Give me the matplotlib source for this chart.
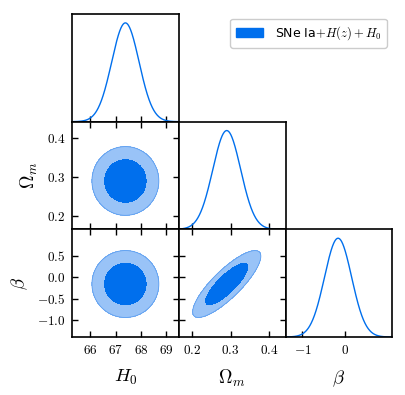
import numpy as np
import matplotlib
matplotlib.use('Agg')
import matplotlib.pyplot as plt
from matplotlib.patches import Patch
from matplotlib.ticker import FixedLocator, FixedFormatter

plt.rcParams['mathtext.fontset'] = 'cm'
plt.rcParams['font.family'] = ['DejaVu Sans']

# ---- data ----
param_labels = [r'$H_0$', r'$\Omega_m$', r'$\beta$']
means = [67.38, 0.290, -0.16]
sigmas = [0.54, 0.036, 0.32]
corr = np.array([[1.0, 0.0, 0.0],
                 [0.0, 1.0, 0.83],
                 [0.0, 0.83, 1.0]])
limits = [(65.27, 69.49), (0.166, 0.442), (-1.40, 1.12)]
xtick_vals = [[66, 67, 68, 69], [0.2, 0.3, 0.4], [-1, 0]]
xtick_labels = [['66', '67', '68', '69'], ['0.2', '0.3', '0.4'], ['-1', '0']]
ytick_vals = {1: [0.2, 0.3, 0.4], 2: [-1.0, -0.5, 0.0, 0.5]}
ytick_labels = {1: ['0.2', '0.3', '0.4'], 2: ['-1.0', '-0.5', '0.0', '0.5']}
legend_label = r'SNe Ia$+H(z)+H_0$'

col_inner = '#006FED'
col_outer = '#99C3F7'
col_edge = '#5C9EF0'

W, H = 406, 395
fig = plt.figure(figsize=(W / 100, H / 100), dpi=100)
left_px, right_px, top_px, bot_px = 72, 392.3, 14, 337
pw = (right_px - left_px) / 3
ph = (bot_px - top_px) / 3


def mk_ax(row, col):
    x0 = (left_px + col * pw) / W
    y0 = 1 - (top_px + (row + 1) * ph) / H
    return fig.add_axes([x0, y0, pw / W, ph / H])


def style(ax):
    for s in ax.spines.values():
        s.set_linewidth(1.2)
    ax.tick_params(direction='in', length=4.5, width=1.0, labelsize=9.5, pad=5)


def math_labels(lst):
    return ['$' + t + '$' for t in lst]

n = 3
for i in range(n):
    for j in range(i + 1):
        ax = mk_ax(i, j)
        style(ax)
        ax.set_xlim(*limits[j])
        ax.xaxis.set_major_locator(FixedLocator(xtick_vals[j]))
        ax.xaxis.set_major_formatter(FixedFormatter(math_labels(xtick_labels[j])))
        if i == j:
            x = np.linspace(limits[i][0], limits[i][1], 400)
            y = np.exp(-0.5 * ((x - means[i]) / sigmas[i]) ** 2)
            ax.plot(x, y, color=col_inner, lw=1.0)
            ax.set_ylim(0, 1.09)
            ax.set_yticks([])
            ax.tick_params(top=False, right=False)
        else:
            ax.set_ylim(*limits[i])
            ax.tick_params(top=True, right=True)
            xs = np.linspace(limits[j][0], limits[j][1], 300)
            ys = np.linspace(limits[i][0], limits[i][1], 300)
            X, Y = np.meshgrid(xs, ys)
            r = corr[i, j]
            u = (X - means[j]) / sigmas[j]
            v = (Y - means[i]) / sigmas[i]
            chi2 = (u ** 2 - 2 * r * u * v + v ** 2) / (1 - r ** 2)
            Z = np.exp(-0.5 * chi2)
            l95 = np.exp(-0.5 * 5.991)
            l68 = np.exp(-0.5 * 2.296)
            ax.contourf(X, Y, Z, levels=[l95, l68], colors=[col_outer])
            ax.contourf(X, Y, Z, levels=[l68, 2], colors=[col_inner])
            ax.contour(X, Y, Z, levels=[l95], colors=[col_edge], linewidths=0.6)
            ax.yaxis.set_major_locator(FixedLocator(ytick_vals[i]))
            ax.yaxis.set_major_formatter(FixedFormatter(math_labels(ytick_labels[i])))
            if j > 0:
                ax.set_yticklabels([])
        if j == 0 and i > 0:
            ax.set_ylabel(param_labels[i], fontsize=13.5, labelpad=5)
        if i < n - 1:
            ax.set_xticklabels([])
        else:
            ax.set_xlabel(param_labels[j], fontsize=13.5, labelpad=8)

fig.legend(handles=[Patch(facecolor=col_inner, edgecolor=col_inner)],
           labels=[legend_label], loc='upper right',
           bbox_to_anchor=(393 / W, 1 - 12.5 / H), fontsize=9,
           handlelength=2.2, handleheight=0.8, handletextpad=0.9,
           borderpad=0.45, frameon=True, fancybox=True,
           edgecolor='#cccccc', framealpha=1.0)

fig.savefig('out.png', dpi=100)
